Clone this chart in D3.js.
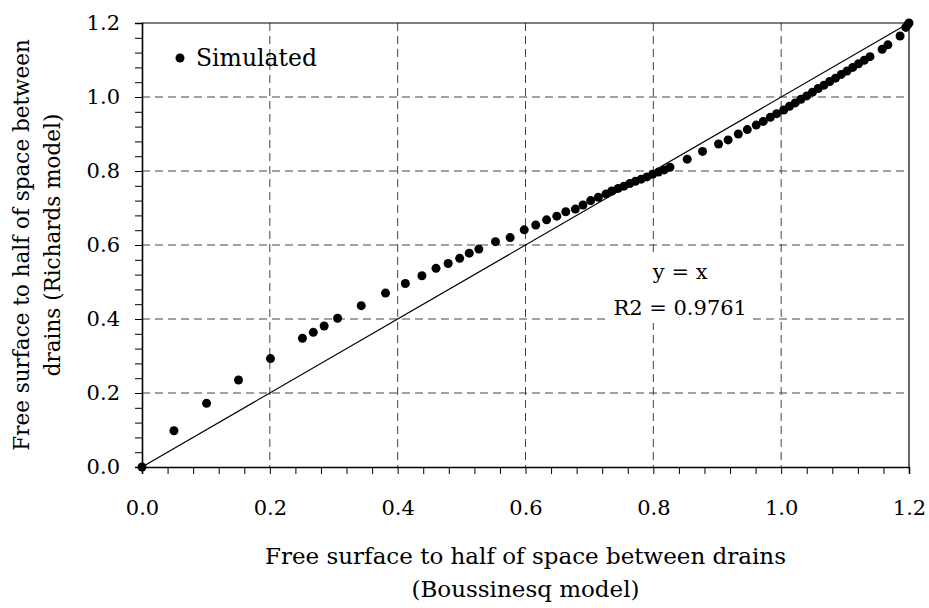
<!DOCTYPE html>
<html>
<head>
<meta charset="utf-8">
<script src="https://cdn.jsdelivr.net/npm/d3@7"></script>
<style>
  body { margin: 0; background: #fff; }
  text { font-family: "DejaVu Serif", "Liberation Serif", serif; fill: #000; }
</style>
</head>
<body>
<svg width="929" height="608"></svg>
<script>
/* Boussinesq vs Richards free surface */

var boussinesq = [0, 0.050, 0.101, 0.151, 0.201, 0.251, 0.268, 0.285, 0.306, 0.343, 0.381, 0.412,
    0.438, 0.460, 0.479, 0.497, 0.512, 0.527, 0.553, 0.576, 0.598, 0.616, 0.633, 0.649, 0.663,
    0.678, 0.690, 0.702, 0.714, 0.726, 0.735, 0.745, 0.754, 0.763, 0.772, 0.781, 0.790, 0.799,
    0.808, 0.817, 0.826, 0.853, 0.877, 0.902, 0.917, 0.933, 0.947, 0.961, 0.972, 0.983, 0.993,
    1.004, 1.013, 1.022, 1.031, 1.040, 1.049, 1.058, 1.067, 1.076, 1.085, 1.094, 1.103, 1.112,
    1.121, 1.130, 1.139, 1.158, 1.167, 1.186, 1.195, 1.198, 1.200];

var richards = [0, 0.098, 0.172, 0.235, 0.293, 0.348, 0.364, 0.381, 0.402, 0.436, 0.470, 0.496,
    0.517, 0.537, 0.550, 0.564, 0.578, 0.589, 0.609, 0.620, 0.641, 0.654, 0.668, 0.678, 0.690,
    0.697, 0.708, 0.720, 0.729, 0.738, 0.746, 0.753, 0.759, 0.766, 0.772, 0.778, 0.784, 0.791,
    0.797, 0.803, 0.810, 0.832, 0.853, 0.873, 0.884, 0.900, 0.912, 0.924, 0.934, 0.945, 0.955,
    0.965, 0.975, 0.984, 0.994, 1.003, 1.013, 1.023, 1.032, 1.042, 1.051, 1.061, 1.070, 1.080,
    1.090, 1.099, 1.109, 1.129, 1.141, 1.165, 1.188, 1.195, 1.200];

var tickValues = [0, 0.2, 0.4, 0.6, 0.8, 1.0, 1.2];
var minorTicks = d3.range(0, 31).map(function (i) { return i * 0.04; });

var svg = d3.select("svg"),
    margin = { top: 23, right: 20, bottom: 141, left: 142 },
    width = +svg.attr("width") - margin.left - margin.right,
    height = +svg.attr("height") - margin.top - margin.bottom;

var g = svg.append("g").attr("transform", "translate(" + margin.left + "," + margin.top + ")");

var x = d3.scaleLinear().domain([0, 1.2]).range([0, width]);
var y = d3.scaleLinear().domain([0, 1.2]).range([height, 0]);

var data = boussinesq.map(function (d, i) { return { x: d, y: richards[i] }; });

// dashed grid
g.append("g").selectAll("line")
    .data(tickValues.slice(1, -1))
    .enter().append("line")
    .attr("x1", function (d) { return x(d); }).attr("x2", function (d) { return x(d); })
    .attr("y1", 0).attr("y2", height)
    .attr("stroke", "#444").attr("stroke-dasharray", "8,5");

g.append("g").selectAll("line")
    .data(tickValues.slice(1, -1))
    .enter().append("line")
    .attr("y1", function (d) { return y(d); }).attr("y2", function (d) { return y(d); })
    .attr("x1", 0).attr("x2", width)
    .attr("stroke", "#444").attr("stroke-dasharray", "8,5");

// top + right border
g.append("line").attr("x1", 0).attr("x2", width).attr("y1", 0).attr("y2", 0)
    .attr("stroke", "#000").attr("stroke-width", 1.2);
g.append("line").attr("x1", width).attr("x2", width).attr("y1", 0).attr("y2", height)
    .attr("stroke", "#000").attr("stroke-width", 1.2);

// axes: minor ticks then labels
var xMinor = g.append("g").attr("transform", "translate(0," + height + ")")
    .call(d3.axisBottom(x).tickValues(minorTicks).tickSize(7).tickFormat(""));
var yMinor = g.append("g")
    .call(d3.axisLeft(y).tickValues(minorTicks).tickSize(7).tickFormat(""));
[xMinor, yMinor].forEach(function (a) {
    a.select(".domain").attr("stroke-width", 1.6);
    a.selectAll(".tick line").attr("stroke-width", 1);
});

var xAxis = g.append("g").attr("transform", "translate(0," + height + ")")
    .call(d3.axisBottom(x).tickValues(tickValues).tickSize(0).tickPadding(33).tickFormat(d3.format(".1f")));
var yAxis = g.append("g")
    .call(d3.axisLeft(y).tickValues(tickValues).tickSize(0).tickPadding(22).tickFormat(d3.format(".1f")));
[xAxis, yAxis].forEach(function (a) {
    a.select(".domain").remove();
    a.selectAll("text").style("font-size", "21px").style("font-family", "DejaVu Serif");
});

// equation box (white, hides grid under the label)
var eq = g.append("g").attr("transform", "translate(" + (x(0.842)) + ",0)");
eq.append("rect").attr("x", -70).attr("y", 234).attr("width", 142).attr("height", 66).attr("fill", "#fff");

// y = x line
g.append("line")
    .attr("x1", x(0)).attr("y1", y(0)).attr("x2", x(1.2)).attr("y2", y(1.2))
    .attr("stroke", "#000").attr("stroke-width", 1.2);

// points
g.append("g").selectAll("circle")
    .data(data)
    .enter().append("circle")
    .attr("cx", function (d) { return x(d.x); })
    .attr("cy", function (d) { return y(d.y); })
    .attr("r", 4.5)
    .attr("fill", "#000");

eq.append("text").attr("y", 256).attr("text-anchor", "middle").style("font-size", "21px").text("y = x");
eq.append("text").attr("y", 292).attr("text-anchor", "middle").style("font-size", "21px").text("R2 = 0.9761");

// legend
g.append("circle").attr("cx", 38).attr("cy", 35).attr("r", 4.5).attr("fill", "#000");
g.append("text").attr("x", 54).attr("y", 43).style("font-size", "23.5px").text("Simulated");

// axis titles
svg.append("text").attr("x", margin.left + width / 2).attr("y", 564)
    .attr("text-anchor", "middle").style("font-size", "23px")
    .text("Free surface to half of space between drains");
svg.append("text").attr("x", margin.left + width / 2).attr("y", 597)
    .attr("text-anchor", "middle").style("font-size", "23px")
    .text("(Boussinesq model)");

var yt = svg.append("text").attr("transform", "translate(29," + (margin.top + height / 2) + ") rotate(-90)")
    .attr("text-anchor", "middle").style("font-size", "21.5px");
yt.append("tspan").attr("x", 0).attr("dy", 0).text("Free surface to half of space between");
yt.append("tspan").attr("x", 0).attr("dy", 31).text("drains (Richards model)");
</script>
</body>
</html>
